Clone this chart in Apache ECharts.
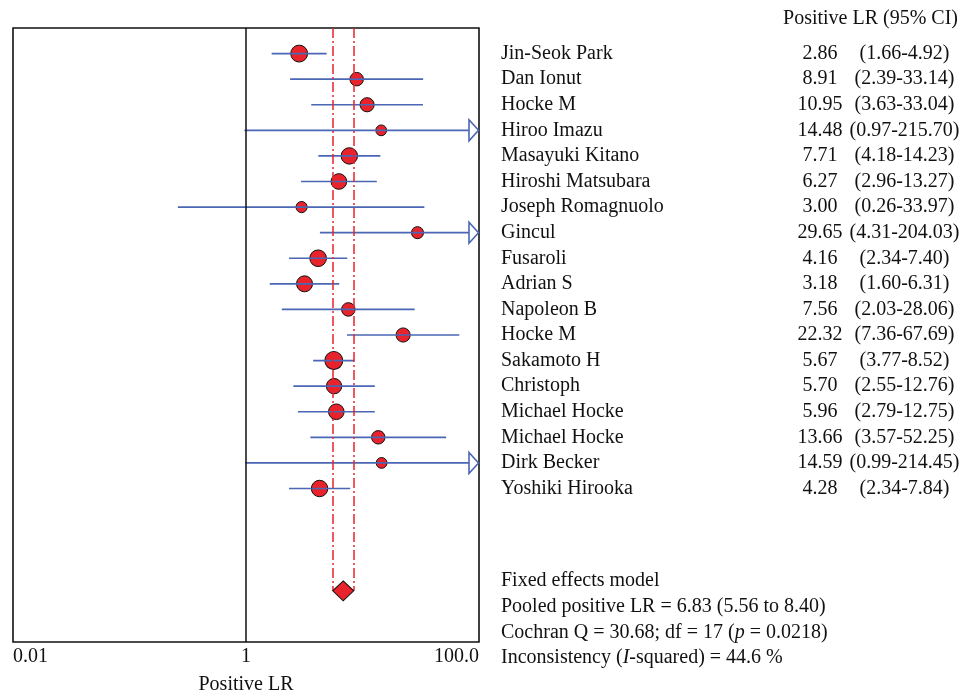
<!DOCTYPE html>
<html>
<head>
<meta charset="utf-8">
<title>Positive LR forest plot</title>
<script src="https://cdn.jsdelivr.net/npm/echarts@6/dist/echarts.min.js"></script>
<style>
  html, body { margin: 0; padding: 0; background: #fff; }
  #chart { width: 968px; height: 697px; }
</style>
</head>
<body>
<div id="chart"></div>
<script>
// Studies, point estimates and 95% confidence limits of the positive likelihood ratio
const studies = [
  'Jin-Seok Park', 'Dan Ionut', 'Hocke M', 'Hiroo Imazu', 'Masayuki Kitano',
  'Hiroshi Matsubara', 'Joseph Romagnuolo', 'Gincul', 'Fusaroli', 'Adrian S',
  'Napoleon B', 'Hocke M', 'Sakamoto H', 'Christoph', 'Michael Hocke',
  'Michael Hocke', 'Dirk Becker', 'Yoshiki Hirooka'
];
const lr = [2.86, 8.91, 10.95, 14.48, 7.71, 6.27, 3.00, 29.65, 4.16, 3.18,
            7.56, 22.32, 5.67, 5.70, 5.96, 13.66, 14.59, 4.28];
const ciLow = [1.66, 2.39, 3.63, 0.97, 4.18, 2.96, 0.26, 4.31, 2.34, 1.60,
               2.03, 7.36, 3.77, 2.55, 2.79, 3.57, 0.99, 2.34];
const ciHigh = [4.92, 33.14, 33.04, 215.70, 14.23, 13.27, 33.97, 204.03, 7.40, 6.31,
                28.06, 67.69, 8.52, 12.76, 12.75, 52.25, 214.45, 7.84];

// Fixed effects summary
const pooled = [6.83, 5.56, 8.40];   // estimate, lower, upper
const cochranQ = 30.68;
const df = 17;
const pValue = '0.0218';
const iSquared = 44.6;

// X axis (log scale) tick values and their printed labels
const xTickValues = [0.01, 1, 100];
const xTickLabels = ['0.01', '1', '100.0'];

const X_MIN = xTickValues[0];
const X_MAX = xTickValues[xTickValues.length - 1];
const SUMMARY_ROW = studies.length + 3;   // row of the pooled diamond
const LAST_ROW = studies.length + 5;

const RED = '#e8232b';
const BLUE = '#4a66b4';
const FONT = '"Liberation Serif", "Times New Roman", serif';
const FS = 20;

// marker size grows with the inverse-variance weight of each study
function markerSize(lo, hi) {
  const se = Math.log(hi / lo) / (2 * 1.96);
  const w = 1 / (se * se);
  return 12 + 1.9 * Math.log(w);
}

const chart = echarts.init(document.getElementById('chart'), null, { renderer: 'canvas' });

const pointData = lr.map((v, i) => ({
  value: [v, i],
  symbolSize: markerSize(ciLow[i], ciHigh[i])
}));
const ciData = lr.map((v, i) => [ciLow[i], ciHigh[i], i]);

function renderCI(params, api) {
  const lo = api.value(0);
  const hi = api.value(1);
  const row = api.value(2);
  const clipped = hi > X_MAX;
  const p1 = api.coord([Math.max(lo, X_MIN), row]);
  const p2 = api.coord([Math.min(hi, X_MAX), row]);
  const arrowW = 10, arrowH = 10.5;
  const children = [{
    type: 'line',
    shape: { x1: p1[0], y1: p1[1], x2: clipped ? p2[0] - arrowW : p2[0], y2: p2[1] },
    style: { stroke: BLUE, lineWidth: 1.7 }
  }];
  if (clipped) {
    children.push({
      type: 'polygon',
      shape: { points: [[p2[0] - arrowW, p2[1] - arrowH], [p2[0] - 0.5, p2[1]], [p2[0] - arrowW, p2[1] + arrowH]] },
      style: { fill: '#fff', stroke: BLUE, lineWidth: 1.6 }
    });
  }
  return { type: 'group', children: children };
}

function rowLabel(value) {
  const i = Math.round(value);
  if (Math.abs(value - i) > 1e-6 || i < 0 || i >= studies.length) return '';
  return '{n|' + studies[i] + '}{v|' + lr[i].toFixed(2) + '}{c|(' +
    ciLow[i].toFixed(2) + '-' + ciHigh[i].toFixed(2) + ')}';
}

const option = {
  animation: false,
  backgroundColor: '#fff',
  textStyle: { fontFamily: FONT },
  title: {
    text: 'Positive LR (95% CI)',
    right: 5,
    top: 4,
    textStyle: { fontFamily: FONT, fontSize: FS, fontWeight: 'normal', color: '#111' }
  },
  grid: {
    left: 13, top: 28, width: 466, height: 614,
    containLabel: false,
    outerBoundsMode: 'none',
    show: true, borderColor: '#111', borderWidth: 1.6, backgroundColor: '#fff'
  },
  xAxis: {
    type: 'log',
    logBase: 10,
    min: X_MIN,
    max: X_MAX,
    name: 'Positive LR',
    nameLocation: 'middle',
    nameGap: 33,
    nameTextStyle: { fontFamily: FONT, fontSize: FS, color: '#111' },
    axisLine: { show: false },
    axisTick: { show: false },
    splitLine: { show: false },
    axisLabel: {
      margin: 5,
      fontFamily: FONT,
      fontSize: FS,
      color: '#111',
      alignMinLabel: 'left',
      alignMaxLabel: 'right',
      formatter: function (v) {
        for (let k = 0; k < xTickValues.length; k++) {
          if (Math.abs(Math.log10(v) - Math.log10(xTickValues[k])) < 1e-6) return xTickLabels[k];
        }
        return '';
      }
    }
  },
  yAxis: {
    type: 'value',
    inverse: true,
    min: -1,
    max: LAST_ROW,
    interval: 1,
    position: 'right',
    axisLine: { show: false },
    axisTick: { show: false },
    splitLine: { show: false },
    axisLabel: {
      margin: 22,
      formatter: rowLabel,
      fontFamily: FONT,
      fontSize: FS,
      color: '#111',
      rich: {
        n: { width: 295, align: 'left', fontFamily: FONT, fontSize: FS, color: '#111' },
        v: { width: 48, align: 'center', fontFamily: FONT, fontSize: FS, color: '#111' },
        c: { width: 121, align: 'center', fontFamily: FONT, fontSize: FS, color: '#111' }
      }
    }
  },
  graphic: [{
    type: 'text',
    left: 501,
    top: 568,
    style: {
      text: [
        'Fixed effects model',
        'Pooled positive LR = ' + pooled[0].toFixed(2) + ' (' + pooled[1].toFixed(2) + ' to ' + pooled[2].toFixed(2) + ')',
        'Cochran Q = ' + cochranQ.toFixed(2) + '; df = ' + df + ' ({i|p} = ' + pValue + ')',
        'Inconsistency ({i|I}-squared) = ' + iSquared.toFixed(1) + ' %'
      ].join('\n'),
      font: FS + 'px ' + FONT,
      fill: '#111',
      lineHeight: 25.7,
      rich: {
        i: { fontStyle: 'italic', fontFamily: FONT, fontSize: FS, fill: '#111', lineHeight: 25.7 }
      }
    }
  }],
  series: [
    {
      // reference lines: no effect at 1, pooled confidence limits
      type: 'scatter',
      data: [],
      silent: true,
      z: 1,
      markLine: {
        silent: true,
        symbol: ['none', 'none'],
        label: { show: false },
        animation: false,
        data: [
          [{ coord: [1, -1], lineStyle: { color: '#111', width: 1.5, type: 'solid' } },
           { coord: [1, LAST_ROW] }],
          [{ coord: [pooled[1], -1], lineStyle: { color: RED, width: 1.5, type: [10, 3, 2, 3] } },
           { coord: [pooled[1], SUMMARY_ROW] }],
          [{ coord: [pooled[2], -1], lineStyle: { color: RED, width: 1.5, type: [10, 3, 2, 3] } },
           { coord: [pooled[2], SUMMARY_ROW] }]
        ]
      }
    },
    {
      type: 'scatter',
      name: 'Studies',
      data: pointData,
      symbol: 'circle',
      z: 3,
      itemStyle: { color: RED, borderColor: '#111', borderWidth: 1, opacity: 1 }
    },
    {
      type: 'custom',
      name: 'CI',
      data: ciData,
      renderItem: renderCI,
      clip: false,
      z: 4,
      encode: { x: [0, 1], y: 2 }
    },
    {
      type: 'scatter',
      name: 'Pooled',
      data: [[pooled[0], SUMMARY_ROW]],
      symbol: 'diamond',
      symbolSize: [21, 20],
      z: 5,
      itemStyle: { color: RED, borderColor: '#111', borderWidth: 1, opacity: 1 }
    }
  ]
};

chart.setOption(option);
</script>
</body>
</html>
